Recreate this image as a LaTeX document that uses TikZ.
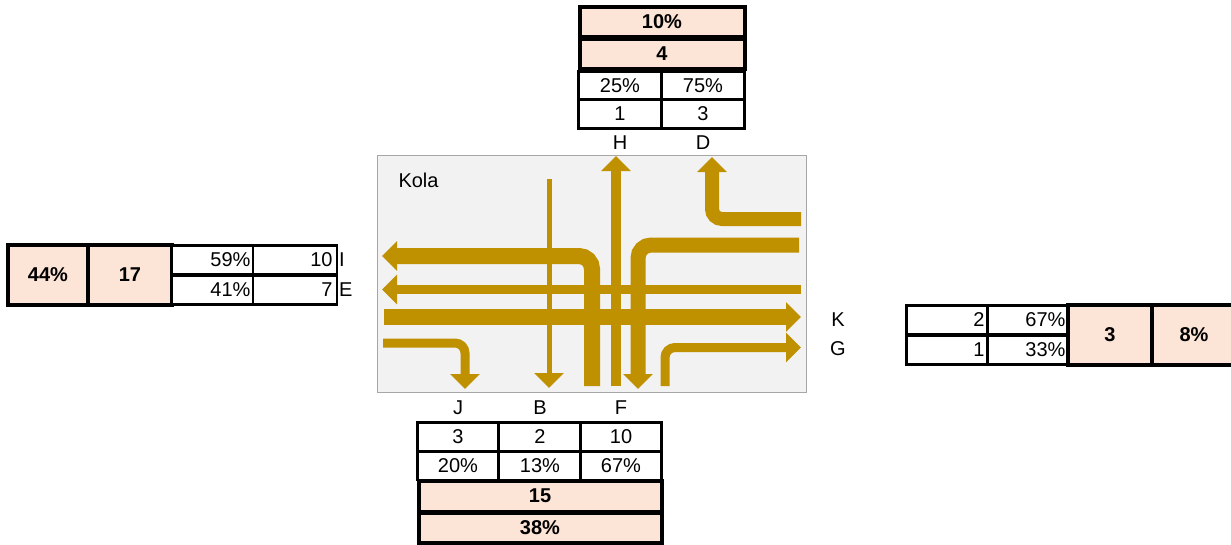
\documentclass[tikz,border=0pt]{standalone}
\usepackage{fontspec}
\setmainfont{Liberation Sans}
\usetikzlibrary{arrows.meta}
\definecolor{flowgold}{HTML}{BF9000}
\definecolor{sumpink}{HTML}{FCE4D6}
\definecolor{boxgray}{HTML}{F2F2F2}
\definecolor{edgegray}{HTML}{A6A6A6}
\tikzset{
  cell/.style={draw, line width=2.5pt, fill=white, inner sep=0pt, minimum height=29pt},
  rcell/.style={cell, align=right, text width=75pt},
  sum/.style={draw, line width=4pt, fill=sumpink, inner sep=0pt,
    font=\fontsize{20}{23}\selectfont\bfseries},
  flow/.style={draw=flowgold, line width=#1, rounded corners=10pt,
    -{Triangle[width=29pt,length=15pt]}},
}
\begin{document}
\begin{tikzpicture}[x=1pt, y=-1pt, font=\fontsize{20}{23}\selectfont]
  \useasboundingbox (0,0) rectangle (1231,544);
  % junction
  \draw[edgegray, fill=boxgray, line width=1pt] (377,155) rectangle (806,392);
  \node[anchor=west] (kola) at (395,180) {Kola};
  \draw[flow=5pt]  (549,179) -- (549,388);
  \draw[flow=10pt] (616,386) -- (616,156);
  \draw[flow=14pt] (801,219) -- (712,219) -- (712,157);
  \draw[flow=15pt, rounded corners=13pt] (799,245) -- (638,245) -- (638,389);
  \draw[flow=16pt, rounded corners=13pt] (592,386) -- (592,256) -- (382,256);
  \draw[flow=9pt]  (801,289.5) -- (382,289.5);
  \draw[flow=16pt] (384,317) -- (801,317);
  \draw[flow=9pt]  (383,343) -- (465,343) -- (465,389);
  \draw[flow=9pt]  (665,386) -- (665,347.5) -- (801,347.5);

  % top
  \node[sum, minimum width=165pt, minimum height=30pt] (topshare) at (662,22) {10\%};
  \node[sum, minimum width=165pt, minimum height=30pt] (topsum) at (662,54) {4};
  \node[cell, minimum width=83pt] (hpct) at (620,86) {25\%};
  \node[cell, minimum width=83pt] (dpct) at (703,86) {75\%};
  \node[cell, minimum width=83pt] (hnum) at (620,114) {1};
  \node[cell, minimum width=83pt] (dnum) at (703,114) {3};
  \node (h) at (620,143) {H};
  \node (d) at (703,143) {D};

  % left
  \node[sum, minimum width=80pt, minimum height=60pt] (leftshare) at (48,275) {44\%};
  \node[sum, minimum width=84pt, minimum height=60pt] (leftsum) at (130,275) {17};
  \node[rcell, minimum width=82pt] (ipct) at (213,260) {59\%};
  \node[rcell, minimum width=84pt] (inum) at (295,260) {10};
  \node[rcell, minimum width=82pt] (epct) at (213,290) {41\%};
  \node[rcell, minimum width=84pt] (enum) at (295,290) {7};
  \node[anchor=west, inner sep=1pt] (i) at (338,260) {I};
  \node[anchor=west, inner sep=1pt] (e) at (338,290) {E};

  % right
  \node[rcell, minimum width=81pt] (knum) at (947,320) {2};
  \node[rcell, minimum width=80pt] (kpct) at (1028,320) {67\%};
  \node[rcell, minimum width=81pt] (gnum) at (947,350) {1};
  \node[rcell, minimum width=80pt] (gpct) at (1028,350) {33\%};
  \node[sum, minimum width=84pt, minimum height=60pt] (rightsum) at (1110,335) {3};
  \node[sum, minimum width=84pt, minimum height=60pt] (rightshare) at (1194,335) {8\%};
  \node (k) at (838,320) {K};
  \node (g) at (838,349) {G};

  % bottom
  \node (j) at (458,408) {J};
  \node (b) at (540,408) {B};
  \node (f) at (621,408) {F};
  \node[cell, minimum width=81pt] (jnum) at (458,437) {3};
  \node[cell, minimum width=83pt] (bnum) at (540,437) {2};
  \node[cell, minimum width=81pt] (fnum) at (621,437) {10};
  \node[cell, minimum width=81pt, minimum height=28pt] (jpct) at (458,466) {20\%};
  \node[cell, minimum width=83pt, minimum height=28pt] (bpct) at (540,466) {13\%};
  \node[cell, minimum width=81pt, minimum height=28pt] (fpct) at (621,466) {67\%};
  \node[sum, minimum width=243pt, minimum height=31pt] (bottomsum) at (540,496) {15};
  \node[sum, minimum width=243pt, minimum height=30pt] (bottomshare) at (540,528) {38\%};
\end{tikzpicture}
\end{document}
